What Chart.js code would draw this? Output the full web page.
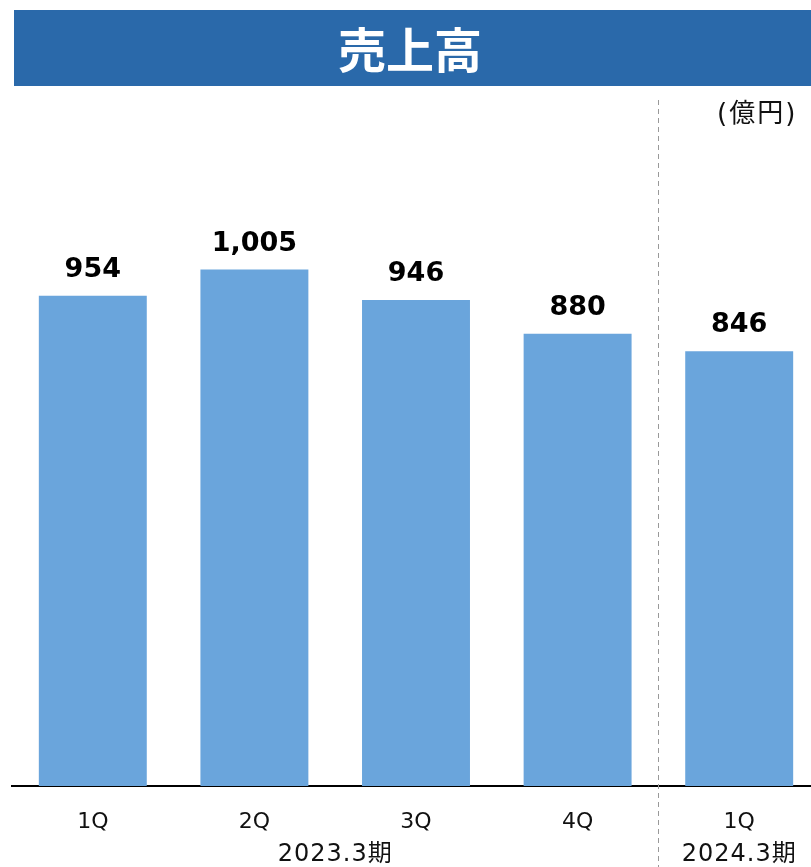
<!DOCTYPE html>
<html>
<head>
<meta charset="utf-8">
<script src="https://cdn.jsdelivr.net/npm/chart.js@4/dist/chart.umd.min.js"></script>
<style>
  html, body { margin: 0; padding: 0; background: #fff; overflow: hidden; }
  #wrap { position: absolute; left: 0; top: 0; width: 830px; height: 867px; }
</style>
</head>
<body>
<div id="wrap"><canvas id="c" width="830" height="867"></canvas></div>
<script>
const chartTitle = '売上高';
const unitLabel = '(億円)';
const categories = ['1Q', '2Q', '3Q', '4Q', '1Q'];
const sales = [954, 1005, 946, 880, 846];
const periodLabels = ['2023.3期', '2024.3期'];
const periodFirst = [0, 4];
const periodLast = [3, 4];
const yMax = 1300;

const FONT = '"DejaVu Sans", "Noto Sans CJK JP", sans-serif';

const overlay = {
  id: 'overlay',
  beforeDraw(chart) {
    const ctx = chart.ctx;
    ctx.save();
    ctx.fillStyle = '#2a69aa';
    ctx.fillRect(14, 10, 797, 76);
    ctx.fillStyle = '#ffffff';
    ctx.font = 'bold 48px "Noto Sans CJK JP", sans-serif';
    ctx.textAlign = 'center';
    ctx.textBaseline = 'middle';
    ctx.fillText(chartTitle, 410, 50);
    ctx.restore();
  },
  afterDraw(chart) {
    const ctx = chart.ctx;
    const x = chart.scales.x;
    ctx.save();
    // dashed separator between periods
    const sepX = (x.getPixelForValue(3) + x.getPixelForValue(4)) / 2;
    ctx.strokeStyle = '#999999';
    ctx.lineWidth = 1;
    ctx.setLineDash([5, 4]);
    ctx.beginPath();
    ctx.moveTo(Math.round(sepX) + 0.5, 100);
    ctx.lineTo(Math.round(sepX) + 0.5, 867);
    ctx.stroke();
    ctx.setLineDash([]);
    // unit label
    ctx.fillStyle = '#111';
    ctx.font = '26px "DejaVu Sans", "Noto Sans CJK JP", sans-serif';
    ctx.letterSpacing = '2px';
    ctx.textAlign = 'left';
    ctx.textBaseline = 'middle';
    ctx.fillText(unitLabel, 717, 115);
    // period labels
    ctx.font = '24px ' + FONT;
    ctx.letterSpacing = '1px';
    ctx.textAlign = 'center';
    periodLabels.forEach((lab, i) => {
      const cx = (x.getPixelForValue(periodFirst[i]) + x.getPixelForValue(periodLast[i])) / 2;
      ctx.fillText(lab, cx, 855);
    });
    ctx.letterSpacing = '0px';
    // value labels
    const meta = chart.getDatasetMeta(0);
    ctx.font = 'bold 27px "DejaVu Sans", sans-serif';
    ctx.textBaseline = 'alphabetic';
    ctx.fillStyle = '#000';
    meta.data.forEach((bar, i) => {
      ctx.fillText(sales[i].toLocaleString('en-US'), bar.x, bar.y - 19);
    });
    ctx.restore();
  }
};

new Chart(document.getElementById('c'), {
  type: 'bar',
  data: {
    labels: categories,
    datasets: [{
      data: sales,
      backgroundColor: '#6aa5dc',
      borderWidth: 0,
      barPercentage: 0.668,
      categoryPercentage: 1.0
    }]
  },
  options: {
    responsive: false,
    animation: false,
    layout: { padding: { top: 118, left: 12, right: 10, bottom: 0 } },
    plugins: { legend: { display: false }, tooltip: { enabled: false }, title: { display: false } },
    scales: {
      x: {
        grid: { display: false, drawTicks: false },
        border: { display: true, color: '#000', width: 2 },
        ticks: { color: '#111', font: { size: 22, family: FONT }, padding: 23, maxRotation: 0 },
        afterFit(scale) { scale.height = 81; }
      },
      y: {
        display: false,
        min: 0,
        max: yMax
      }
    }
  },
  plugins: [overlay]
});
</script>
</body>
</html>
